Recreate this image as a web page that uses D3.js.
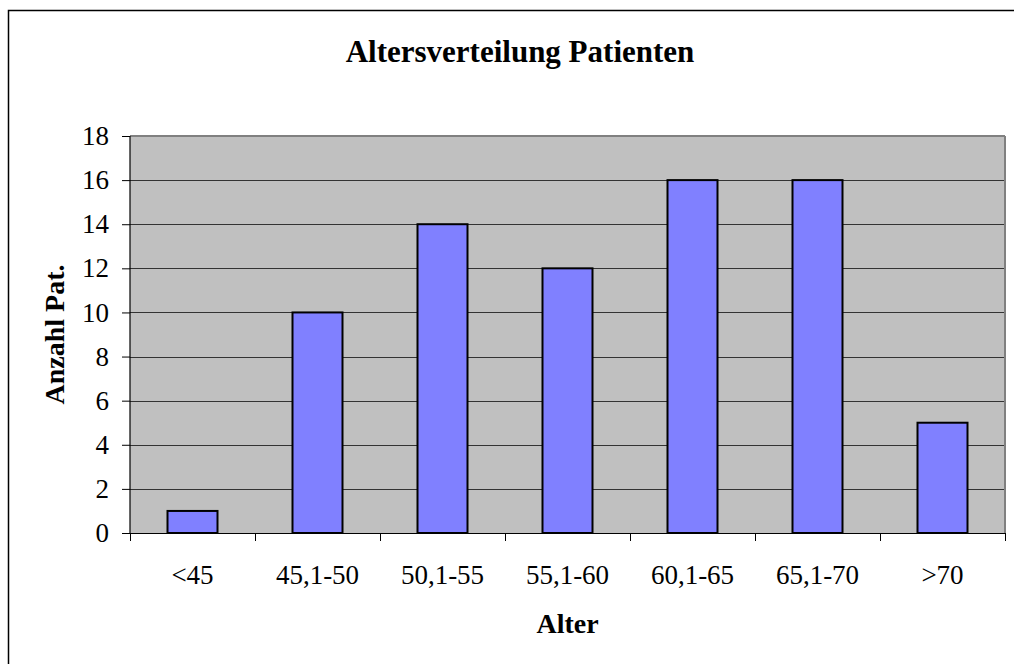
<!DOCTYPE html>
<html><head><meta charset="utf-8">
<script src="https://cdn.jsdelivr.net/npm/d3@7"></script>
<style>body{margin:0;background:#fff}svg{display:block}text{font-family:"Liberation Serif","Times New Roman",serif}</style>
</head><body><svg id="c" width="1014" height="664"></svg>
<script>
const categories = ["<45","45,1-50","50,1-55","55,1-60","60,1-65","65,1-70",">70"];
const values = [1,10,14,12,16,16,5];
const yTicks = [0,2,4,6,8,10,12,14,16,18];
const title = "Altersverteilung Patienten";
const xTitle = "Alter";
const yTitle = "Anzahl Pat.";

const svg = d3.select("#c");
const L=130,R=1005,T=136,B=533;
svg.append("rect").attr("x",8.5).attr("y",10.5).attr("width",1100).attr("height",800).attr("fill","#fff").attr("stroke","#000").attr("stroke-width",1.5);

const x = d3.scaleBand().domain(categories).range([L,R]);
const y = d3.scaleLinear().domain([0,18]).range([B,T]);

svg.append("rect").attr("x",L).attr("y",T).attr("width",R-L).attr("height",B-T).attr("fill","#c0c0c0");
// grid
svg.append("g").selectAll("line").data(yTicks.filter(d=>d>0&&d<18)).join("line")
 .attr("x1",L).attr("x2",R).attr("y1",d=>Math.round(y(d))+0.5).attr("y2",d=>Math.round(y(d))+0.5)
 .attr("stroke","#333").attr("stroke-width",1);
// plot border top/right gray
svg.append("line").attr("x1",L).attr("x2",R).attr("y1",T).attr("y2",T).attr("stroke","#808080").attr("stroke-width",2);
svg.append("line").attr("x1",R).attr("x2",R).attr("y1",T).attr("y2",B).attr("stroke","#808080").attr("stroke-width",2);

// bars
const bw = x.bandwidth()*0.4;
svg.append("g").selectAll("rect").data(values).join("rect")
 .attr("x",(d,i)=>x(categories[i])+x.bandwidth()/2-bw/2)
 .attr("y",d=>y(d)).attr("width",bw).attr("height",d=>B-y(d))
 .attr("fill","#8080ff").attr("stroke","#000").attr("stroke-width",2);

// y axis
const ya = d3.axisLeft(y).tickValues(yTicks).tickSize(8).tickPadding(13).tickFormat(d3.format("d"));
const gy = svg.append("g").attr("transform",`translate(${L},0)`).call(ya);
gy.attr("font-size",27).attr("font-family",null);
gy.select(".domain").attr("stroke","#000").attr("stroke-width",1.2).attr("d",`M0,${T}V${B}`);
gy.selectAll(".tick line").attr("stroke","#000");
gy.selectAll("text").attr("fill","#000");

// x axis
const xa = d3.axisBottom(x).tickSize(0);
const gx = svg.append("g").attr("transform",`translate(0,${B})`).call(xa);
gx.attr("font-size",27).attr("font-family",null);
gx.select(".domain").remove();
gx.selectAll("text").attr("fill","#000").attr("y",51).attr("dy",0);
svg.append("line").attr("x1",L-8).attr("x2",R).attr("y1",B+0.5).attr("y2",B+0.5).attr("stroke","#000").attr("stroke-width",1.2);
const edges = categories.map(c=>x(c)).concat([R]);
svg.append("g").selectAll("line").data(edges).join("line")
 .attr("x1",d=>Math.round(d)+0.5).attr("x2",d=>Math.round(d)+0.5).attr("y1",B).attr("y2",B+8).attr("stroke","#000");

svg.append("text").attr("x",520).attr("y",62).attr("text-anchor","middle").attr("font-size",31).attr("font-weight","bold").text(title);
svg.append("text").attr("x",(L+R)/2).attr("y",633).attr("text-anchor","middle").attr("font-size",28).attr("font-weight","bold").text(xTitle);
svg.append("text").attr("transform",`translate(64,${(T+B)/2}) rotate(-90)`).attr("text-anchor","middle").attr("font-size",28).attr("font-weight","bold").text(yTitle);
</script></body></html>
